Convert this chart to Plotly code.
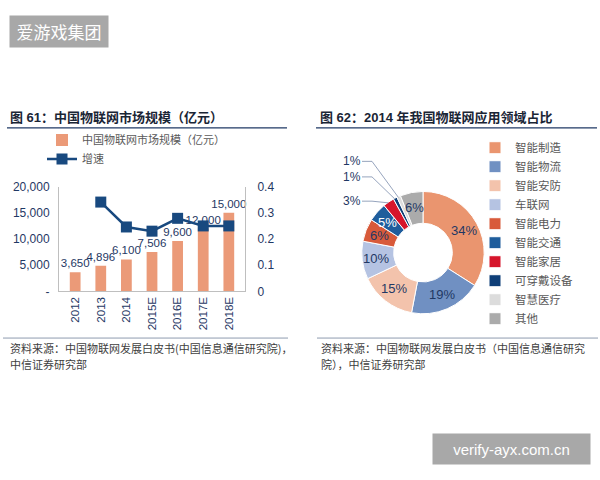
import math
import plotly.graph_objects as go

# ---------------- data ----------------
years = ["2012", "2013", "2014", "2015E", "2016E", "2017E", "2018E"]
market_size = [3650, 4896, 6100, 7506, 9600, 12000, 15000]
bar_labels = ["3,650", "4,896", "6,100", "7,506", "9,600", "12,000", "15,000"]
growth = [None, 0.341, 0.246, 0.230, 0.279, 0.250, 0.250]
left_ticks = [0, 5000, 10000, 15000, 20000]
left_ticktext = ["-", "5,000", "10,000", "15,000", "20,000"]
right_ticks = [0, 0.1, 0.2, 0.3, 0.4]
right_ticktext = ["0", "0.1", "0.2", "0.3", "0.4"]

sectors = ["智能制造", "智能物流", "智能安防", "车联网", "智能电力",
           "智能交通", "智能家居", "可穿戴设备", "智慧医疗", "其他"]
shares = [34, 19, 15, 10, 6, 5, 3, 1, 1, 6]
sector_colors = ["#EA956F", "#7090C2", "#F3C3AC", "#B5C3E2", "#D85A3A",
                 "#1F5D9C", "#D6152B", "#0F3F78", "#DCDCDC", "#ABABAB"]
label_colors = ["#1F3864", "#1F3864", "#1F3864", "#1F3864", "#1F3864",
                "#FFFFFF", "#1F3864", "#1F3864", "#1F3864", "#1F3864"]

W, H = 600, 480
NAVY = "#1F3864"
FONT = "Liberation Sans, Noto Sans CJK SC, sans-serif"


def px(x):
    return x / W


def py(y):
    return 1 - y / H


fig = go.Figure()

# ---------------- left chart ----------------
fig.add_trace(go.Bar(
    x=years, y=market_size, text=bar_labels, textposition="outside",
    constraintext="none",
    textfont=dict(size=11.5, color=NAVY, family=FONT),
    marker=dict(color="#EB9A78", line=dict(width=0)), width=0.42,
    name="中国物联网市场规模（亿元）", cliponaxis=False, legend="legend",
    hoverinfo="x+y"))
fig.add_trace(go.Scatter(
    x=years, y=growth, yaxis="y2", mode="lines+markers",
    line=dict(color="#18497F", width=2.5),
    marker=dict(symbol="square", size=11, color="#18497F"),
    name="增速", legend="legend", cliponaxis=False))

# ---------------- right chart ----------------
pcx, pcy, pr = 423, 253, 63
fig.add_trace(go.Pie(
    labels=sectors, values=shares, hole=0.48, sort=False,
    direction="clockwise", rotation=0, textinfo="none",
    marker=dict(colors=sector_colors, line=dict(color="white", width=1)),
    domain=dict(x=[px(pcx - pr), px(pcx + pr)], y=[py(pcy + pr), py(pcy - pr)]),
    legend="legend2", showlegend=True))

annotations = []
shapes = []


def note(x, y, text, font, xanchor="center", yanchor="middle", **kw):
    d = dict(x=px(x), y=py(y), xref="paper", yref="paper", text=text,
             showarrow=False, font=font, xanchor=xanchor, yanchor=yanchor)
    d.update(kw)
    annotations.append(d)


# pie labels computed from the slice angles
total = sum(shares)
cum = 0
outside_slots = {6: -53, 7: -78, 8: -94}
for i, v in enumerate(shares):
    mid = (cum + v / 2) / total * 2 * math.pi
    cum += v
    if v >= 5:
        rm = 47
        x = pcx + rm * math.sin(mid)
        y = pcy - rm * math.cos(mid)
        note(x, y, f"{v}%", dict(size=13, color=label_colors[i], family=FONT))
    else:
        ex = pcx + (pr - 1) * math.sin(mid)
        ey = pcy - (pr - 1) * math.cos(mid)
        lx, ly = pcx - 71, pcy + outside_slots[i]
        note(lx, ly, f"{v}%", dict(size=12, color=NAVY, family=FONT))
        shapes.append(dict(
            type="path", xref="paper", yref="paper",
            path=f"M {px(lx + 10)},{py(ly)} L {px(lx + 20)},{py(ly)} L {px(ex)},{py(ey)}",
            line=dict(color="#8A9AB5", width=0.9)))

# titles
title_font = dict(size=13, color="#1A2535", family=FONT, weight="bold")
note(8, 114, "图 61：中国物联网市场规模（亿元）", title_font, xanchor="left")
note(318, 114, "图 62：2014 年我国物联网应用领域占比", title_font, xanchor="left")
shapes.append(dict(type="line", xref="paper", yref="paper", x0=px(7), x1=px(287),
                   y0=py(124.5), y1=py(124.5), line=dict(color="#1F3864", width=1.3)))
shapes.append(dict(type="line", xref="paper", yref="paper", x0=px(316), x1=px(597),
                   y0=py(124.5), y1=py(124.5), line=dict(color="#1F3864", width=1.3)))

# sources
shapes.append(dict(type="line", xref="paper", yref="paper", x0=px(3), x1=px(288),
                   y0=py(341), y1=py(341), line=dict(color="#8E9CB0", width=1)))
shapes.append(dict(type="line", xref="paper", yref="paper", x0=px(317), x1=px(598),
                   y0=py(341), y1=py(341), line=dict(color="#8E9CB0", width=1)))
src_font = dict(size=11, color="#404040", family="Noto Sans CJK SC")
note(8, 351, "资料来源：中国物联网发展白皮书(中国信息通信研究院)，", src_font, xanchor="left")
note(8, 368, "中信证券研究部", src_font, xanchor="left")
note(319, 351, "资料来源：中国物联网发展白皮书（中国信息通信研究", src_font, xanchor="left")
note(319, 368, "院），中信证券研究部", src_font, xanchor="left")

# watermarks
note(59, 25.5, "爱游戏集团", dict(size=17, color="white", family="Noto Sans CJK SC"),
     width=98, height=31, bgcolor="#A8A8A8", borderpad=0, align="center")
note(511.5, 455, "verify-ayx.com.cn", dict(size=15, color="white", family="Liberation Sans"),
     width=157, height=30, bgcolor="#A8A8A8", borderpad=0, align="center")

fig.update_layout(
    width=W, height=H, margin=dict(l=0, r=0, t=0, b=0),
    paper_bgcolor="white", plot_bgcolor="white",
    font=dict(family=FONT, color=NAVY),
    xaxis=dict(domain=[px(59), px(245)], showline=True, linecolor="#BFBFBF", linewidth=1,
               tickangle=-90, tickfont=dict(size=11.5, color=NAVY), showgrid=False,
               ticks="", fixedrange=True),
    yaxis=dict(domain=[py(293), py(185)], range=[0, 20000], tickvals=left_ticks,
               ticktext=left_ticktext, showline=True, linecolor="#BFBFBF", linewidth=1,
               showgrid=False, zeroline=False, ticks="outside", ticklen=6,
               tickcolor="rgba(0,0,0,0)", tickfont=dict(size=12, color=NAVY)),
    yaxis2=dict(overlaying="y", side="right", range=[0, 0.4], tickvals=right_ticks,
                ticktext=right_ticktext, showline=True, linecolor="#BFBFBF", linewidth=1,
                showgrid=False, zeroline=False, ticks="outside", ticklen=9,
                tickcolor="rgba(0,0,0,0)", tickfont=dict(size=12, color=NAVY)),
    legend=dict(x=px(42), y=py(122), xanchor="left", yanchor="top",
                font=dict(size=11, color="#595959", family=FONT),
                bgcolor="rgba(0,0,0,0)", itemwidth=30, tracegroupgap=0),
    legend2=dict(x=px(475), y=py(130), xanchor="left", yanchor="top",
                 font=dict(size=11.5, color="#595959", family=FONT),
                 bgcolor="rgba(0,0,0,0)", itemwidth=30),
    annotations=annotations, shapes=shapes, showlegend=True,
)

fig.write_html("out.html")
